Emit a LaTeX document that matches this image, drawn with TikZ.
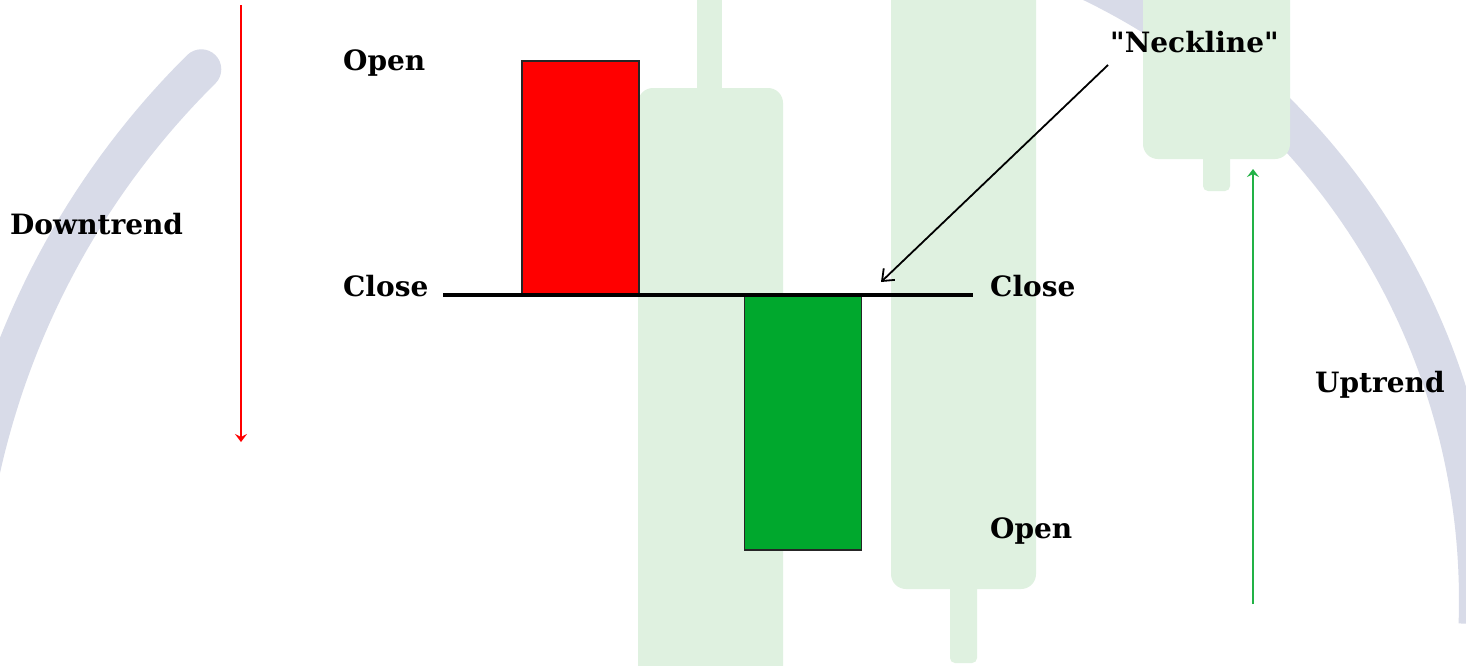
\documentclass[tikz,border=0pt]{standalone}
\usepackage{fontspec}
\newfontfamily\lblfont{DejaVu Serif}
\usetikzlibrary{arrows.meta}
\definecolor{arcgray}{RGB}{216,219,232}
\definecolor{candlegreen}{RGB}{223,241,224}
\definecolor{bullgreen}{RGB}{0,168,45}
\definecolor{trendgreen}{RGB}{34,178,70}
\tikzset{
  wm/.style={draw=arcgray, line width=40pt},
  ghost/.style={fill=candlegreen, draw=none},
  lbl/.style={font=\lblfont\fontsize{28}{31}\selectfont\bfseries, inner sep=0pt, anchor=base west},
  bodybox/.style={draw=black!85, line width=1.5pt, inner sep=0pt, minimum width=117pt}
}
\begin{document}
\begin{tikzpicture}[x=1pt,y=-1pt]
\useasboundingbox (0,0) rectangle (1466,665);
\fill[white] (0,0) rectangle (1466,665);
\clip (0,0) rectangle (1466,665);
% watermark arcs
\draw[wm, line cap=round] plot[domain=225.3:185, samples=80] ({771+810*cos(\x)},{645+810*sin(\x)});
\draw[wm] plot[domain=-68:2, samples=80] ({792+687*cos(\x)},{600+687*sin(\x)});
% ghost candles
\fill[ghost] (697,-20) rectangle (722,100);
\fill[ghost, rounded corners=15pt] (638,88) rectangle (783,720);
\fill[ghost, rounded corners=5pt] (950,560) rectangle (977,663);
\fill[ghost, rounded corners=15pt] (891,-40) rectangle (1036,589);
\fill[ghost, rounded corners=5pt] (1203,140) rectangle (1230,191);
\fill[ghost, rounded corners=15pt] (1143,-40) rectangle (1290,159);
% candle bodies
\node[bodybox, fill=red, minimum height=233pt] (redbody) at (580.5,177.5) {};
\node[bodybox, fill=bullgreen, minimum height=256pt] (greenbody) at (803,422) {};
% neckline
\coordinate (nlA) at (443,295);
\coordinate (nlB) at (973,295);
\draw[line width=4pt] (nlA) -- (nlB);
% labels
\node[lbl] (openL) at (343,70) {Open};
\node[lbl] (closeL) at (343,296) {Close};
\node[lbl] (closeR) at (990,296) {Close};
\node[lbl] (openR) at (990,538) {Open};
\node[lbl] (down) at (10,234) {Downtrend};
\node[lbl] (up) at (1315,392) {Uptrend};
\node[lbl] (neck) at (1110,52) {"Neckline"};
% arrows
\coordinate (nkS) at (1108,65);
\coordinate (nkT) at (881,282);
\draw[line width=1.8pt, -{Straight Barb[length=10pt,width=16pt]}] (nkS) -- (nkT);
\coordinate (rdS) at (241,5);
\coordinate (rdT) at (241,442);
\draw[red, line width=2pt, -{Stealth[length=8pt,width=12pt,inset=3pt]}] (rdS) -- (rdT);
\coordinate (grS) at (1253,604);
\coordinate (grT) at (1253,169);
\draw[trendgreen, line width=2.5pt, -{Stealth[length=8pt,width=12pt,inset=3pt]}] (grS) -- (grT);
\end{tikzpicture}
\end{document}
